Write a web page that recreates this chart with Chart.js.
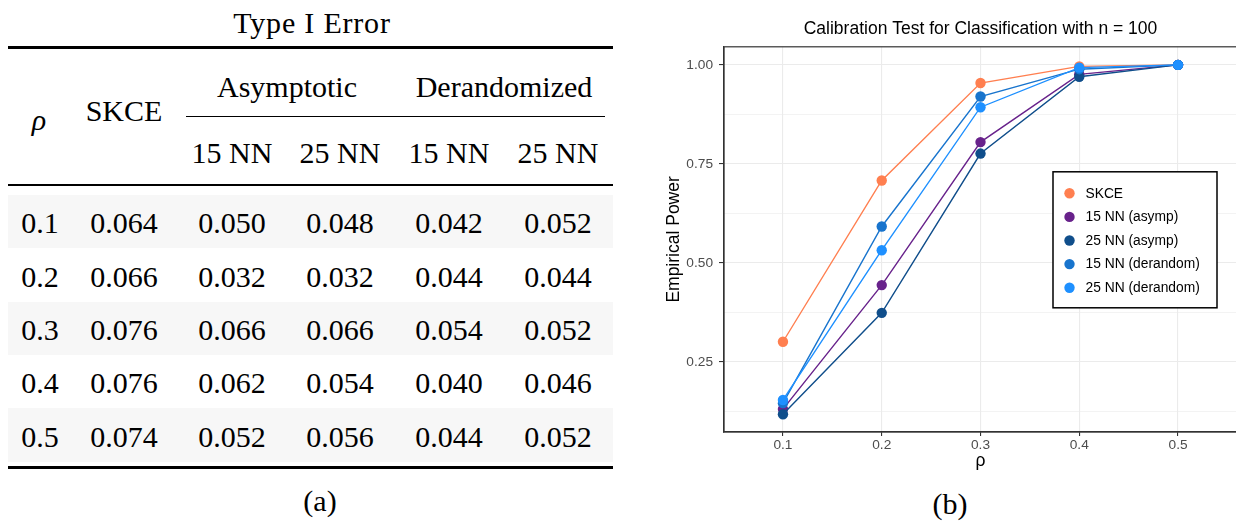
<!DOCTYPE html>
<html><head><meta charset="utf-8">
<script src="https://cdn.jsdelivr.net/npm/chart.js@4"></script>
<style>
html,body{margin:0;padding:0;background:#fff;width:1236px;height:523px;overflow:hidden;position:relative;}
.t{position:absolute;transform:translate(-50%,-50%);font-family:"Liberation Serif","Times New Roman",serif;font-size:30px;line-height:1;white-space:nowrap;color:#000;}
.rule{position:absolute;background:#000;}
.band{position:absolute;background:#f7f7f7;}
#wrap{position:absolute;left:640px;top:0;width:620px;height:523px;}
</style></head><body>
<div id="table"></div>
<div id="wrap"><canvas id="c" width="620" height="523"></canvas></div>
<script>
// ---------- Table (a) data ----------
const tableTitle = 'Type I Error';
const tableCaption = '(a)';
const groupHeaders = ['Asymptotic', 'Derandomized'];
const subHeaders = ['15 NN', '25 NN', '15 NN', '25 NN'];
const rhoCol = ['0.1', '0.2', '0.3', '0.4', '0.5'];
const errSKCE = ['0.064', '0.066', '0.076', '0.076', '0.074'];
const errAsym15 = ['0.050', '0.032', '0.066', '0.062', '0.052'];
const errAsym25 = ['0.048', '0.032', '0.066', '0.054', '0.056'];
const errDer15 = ['0.042', '0.044', '0.054', '0.040', '0.044'];
const errDer25 = ['0.052', '0.044', '0.052', '0.046', '0.052'];

// ---------- Chart (b) data ----------
const chartTitle = 'Calibration Test for Classification with n = 100';
const chartCaption = '(b)';
const rho = [0.1, 0.2, 0.3, 0.4, 0.5];
const xTickLabels = ['0.1', '0.2', '0.3', '0.4', '0.5'];
const yMajorTicks = [0.25, 0.50, 0.75, 1.00];
const yMinorTicks = [0.125, 0.375, 0.625, 0.875];
const seriesNames = ['SKCE', '15 NN (asymp)', '25 NN (asymp)', '15 NN (derandom)', '25 NN (derandom)'];
const powerSKCE = [0.301, 0.708, 0.954, 0.996, 1.000];
const powerAsym15 = [0.131, 0.444, 0.805, 0.976, 1.000];
const powerAsym25 = [0.118, 0.374, 0.776, 0.970, 1.000];
const powerDer15 = [0.146, 0.592, 0.920, 0.989, 1.000];
const powerDer25 = [0.154, 0.532, 0.893, 0.993, 1.000];
const seriesColors = ['#FF7F50', '#68228B', '#104E8B', '#1874CD', '#1E90FF'];

// ---------- build table ----------
const tbl = document.getElementById('table');
function txt(s, x, y, style) {
  const d = document.createElement('div');
  d.className = 't';
  d.textContent = s;
  d.style.left = x + 'px';
  d.style.top = y + 'px';
  if (style) d.style.cssText += style;
  tbl.appendChild(d);
}
function rule(x, y, w, h) {
  const d = document.createElement('div');
  d.className = 'rule';
  d.style.cssText += `left:${x}px;top:${y}px;width:${w}px;height:${h}px;`;
  tbl.appendChild(d);
}
const rowH = 53.33, row0 = 196.7;
[0, 2, 4].forEach(i => {
  const b = document.createElement('div');
  b.className = 'band';
  b.style.cssText += `left:8px;top:${row0 - 1.7 + i * rowH}px;width:605px;height:${rowH}px;`;
  tbl.appendChild(b);
});
txt(tableTitle, 312, 23, 'letter-spacing:0.8px;');
rule(8, 45.5, 605, 3);
txt('ρ', 39, 120, 'font-style:italic;');
txt('SKCE', 124, 111);
txt(groupHeaders[0], 287, 87);
txt(groupHeaders[1], 504, 87);
rule(186, 116, 419, 1.2);
const colX = [40, 124, 232, 340, 449, 558];
subHeaders.forEach((s, i) => txt(s, colX[i + 2], 153));
rule(8, 184, 605, 2);
const cols = [rhoCol, errSKCE, errAsym15, errAsym25, errDer15, errDer25];
rhoCol.forEach((_, r) => {
  cols.forEach((c, j) => txt(c[r], colX[j], row0 + rowH / 2 + r * rowH));
});
rule(8, 465.5, 605, 3);
txt(tableCaption, 320, 501);
txt(chartCaption, 950, 504);

// ---------- chart ----------
Chart.defaults.font.family = '"Liberation Sans", Arial, Helvetica, sans-serif';
const seriesValues = [powerSKCE, powerAsym15, powerAsym25, powerDer15, powerDer25];
const datasets = seriesValues.map((vals, i) => ({
  label: seriesNames[i],
  data: rho.map((x, j) => ({ x: x, y: vals[j] })),
  borderColor: seriesColors[i],
  backgroundColor: seriesColors[i],
  pointBackgroundColor: seriesColors[i],
  pointBorderColor: seriesColors[i],
  pointBorderWidth: 0,
  pointRadius: 5.2,
  pointHoverRadius: 5.2,
  borderWidth: 1.4,
  tension: 0,
  order: seriesValues.length - 1 - i
}));
const isMajor = v => yMajorTicks.some(m => Math.abs(m - v) < 1e-9);

const framePlugin = {
  id: 'frame',
  afterDatasetsDraw(chart) {
    const { ctx, chartArea: a } = chart;
    ctx.save();
    ctx.strokeStyle = '#333333';
    ctx.lineWidth = 1.2;
    ctx.strokeRect(a.left, a.top, a.right - a.left, a.bottom - a.top);
    ctx.restore();
  }
};
const legendPlugin = {
  id: 'insideLegend',
  afterDraw(chart) {
    const { ctx, chartArea: a } = chart;
    const x0 = a.left + 329, y0 = a.top + 125, w = 164, h = 136;
    ctx.save();
    ctx.fillStyle = '#fff';
    ctx.fillRect(x0, y0, w, h);
    ctx.strokeStyle = '#000';
    ctx.lineWidth = 1.5;
    ctx.strokeRect(x0, y0, w, h);
    ctx.font = '13.8px "Liberation Sans", Arial, sans-serif';
    ctx.textBaseline = 'middle';
    ctx.textAlign = 'left';
    chart.data.datasets.forEach((ds, i) => {
      const cy = y0 + 21.5 + i * 23.6;
      ctx.beginPath();
      ctx.fillStyle = ds.backgroundColor;
      ctx.arc(x0 + 16.5, cy, 5.2, 0, Math.PI * 2);
      ctx.fill();
      ctx.fillStyle = '#000';
      ctx.fillText(ds.label, x0 + 32.5, cy + 0.5);
    });
    ctx.restore();
  }
};

new Chart(document.getElementById('c'), {
  type: 'line',
  data: { datasets: datasets },
  options: {
    responsive: false,
    animation: false,
    devicePixelRatio: 1,
    layout: { padding: { left: 0, right: 23, top: 0, bottom: 51.5 } },
    plugins: {
      legend: { display: false },
      tooltip: { enabled: false },
      title: {
        display: true,
        text: chartTitle,
        fullSize: false,
        color: '#000',
        font: { size: 17.5, weight: 'normal' },
        padding: { top: 19, bottom: 6.8 }
      }
    },
    scales: {
      x: {
        type: 'linear',
        min: 0.0403,
        max: 0.5597,
        afterBuildTicks: s => { s.ticks = rho.map(v => ({ value: v })); },
        afterFit: s => { s.height = 39.5; },
        ticks: {
          color: '#4D4D4D',
          font: { size: 13.7 },
          padding: 1,
          maxRotation: 0,
          callback: v => { const i = rho.findIndex(r => Math.abs(r - v) < 1e-9); return i >= 0 ? xTickLabels[i] : ''; }
        },
        grid: { color: '#EBEBEB', lineWidth: 1.1, tickLength: 4, tickColor: '#333333', tickWidth: 1.1 },
        border: { display: true, color: '#333333', width: 1.2 },
        title: { display: true, text: 'ρ', color: '#000', font: { size: 17.5 }, padding: { top: 0, bottom: 0 } }
      },
      y: {
        type: 'linear',
        min: 0.0732,
        max: 1.0455,
        afterBuildTicks: s => {
          s.ticks = yMinorTicks.concat(yMajorTicks).sort((a, b) => a - b).map(v => ({ value: v }));
        },
        afterFit: s => { s.width = 84; },
        ticks: {
          color: '#4D4D4D',
          font: { size: 13.7 },
          padding: 6,
          callback: v => isMajor(v) ? v.toFixed(2) : ''
        },
        grid: {
          color: '#EBEBEB',
          lineWidth: c => (c.tick && isMajor(c.tick.value)) ? 1.1 : 0.6,
          tickLength: 5,
          tickColor: c => (c.tick && isMajor(c.tick.value)) ? '#333333' : 'rgba(0,0,0,0)',
          tickWidth: 1.1
        },
        border: { display: true, color: '#333333', width: 1.2 },
        title: { display: true, text: 'Empirical Power', color: '#000', font: { size: 17.5 }, padding: { top: 23.5, bottom: 0 } }
      }
    }
  },
  plugins: [framePlugin, legendPlugin]
});
</script>
</body></html>
